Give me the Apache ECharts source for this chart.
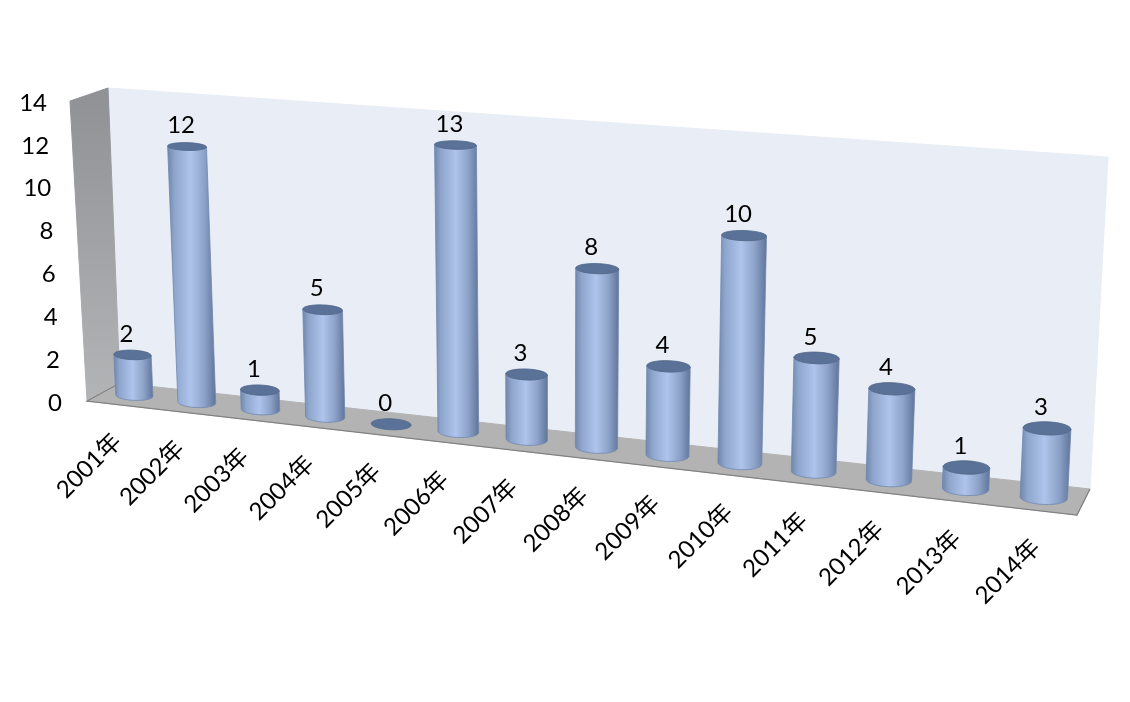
<!DOCTYPE html>
<html style="height: 100%">
<head>
  <meta charset="utf-8" />
  <title>Cylinder chart</title>
  <script src="https://cdn.jsdelivr.net/npm/echarts@6/dist/echarts.min.js"></script>
</head>
<body style="height: 100%; margin: 0; background: #fff">
  <div id="chart" style="width: 1130px; height: 702px"></div>
  <script>
    const years = ['2001年', '2002年', '2003年', '2004年', '2005年', '2006年', '2007年', '2008年', '2009年', '2010年', '2011年', '2012年', '2013年', '2014年'];
    const counts = [2, 12, 1, 5, 0, 13, 3, 8, 4, 10, 5, 4, 1, 3];
    const yMax = 14;
    const yStep = 2;

    const fontFamily = 'Lato, "Noto Sans CJK SC", sans-serif';
    const fontSize = 24;
    const font = fontSize + 'px ' + fontFamily;

    // corners of the box on screen: [front, back] x [left, right] x [bottom, top]
    const box = {
      fl0: [87, 401], fr0: [1077, 515], bl0: [120, 383], br0: [1090, 489],
      fl1: [70, 101], fr1: [1093, 176], bl1: [108, 88], br1: [1108, 157]
    };
    const warp = 1.14; // columns widen towards the right
    const barDepth = 0.5;
    const barRadius = 0.3; // in categories
    const capDepth = 0.27;
    const capTilt = 0.35; // caps sit flatter than the floor line
    const capDrop = 0.007;

    function mix(a, b, k) {
      return [a[0] + (b[0] - a[0]) * k, a[1] + (b[1] - a[1]) * k];
    }

    // u along the categories, h up the value axis, d from front to back, all 0..1
    function project(u, h, d) {
      const t = u / (u + (1 - u) * warp);
      const bottom = mix(mix(box.fl0, box.fr0, t), mix(box.bl0, box.br0, t), d);
      const top = mix(mix(box.fl1, box.fr1, t), mix(box.bl1, box.br1, t), d);
      return mix(bottom, top, h);
    }

    function ellipsePoint(u, h, ru, theta) {
      const c = project(u, h, barDepth);
      const a = project(u - ru, h, barDepth);
      const b = project(u + ru, h, barDepth);
      const ry = (project(u, h, 0)[1] - project(u, h, 1)[1]) * capDepth;
      return [
        c[0] + (b[0] - a[0]) / 2 * Math.cos(theta),
        c[1] + (b[1] - a[1]) / 2 * capTilt * Math.cos(theta) + ry * Math.sin(theta)
      ];
    }

    function arc(u, h, ru, from, to) {
      const pts = [];
      for (let i = 0; i <= 32; i++) {
        pts.push(ellipsePoint(u, h, ru, from + (to - from) * i / 32));
      }
      return pts;
    }

    const sideFill = new echarts.graphic.LinearGradient(0, 0, 1, 0, [
      { offset: 0, color: '#6f84a8' },
      { offset: 0.15, color: '#8ea5cc' },
      { offset: 0.48, color: '#aec4ec' },
      { offset: 0.76, color: '#8ca2c8' },
      { offset: 1, color: '#5f7398' }
    ]);

    function renderWalls(params, api) {
      const P = project;
      const wall = (pts, fill, stroke) => ({
        type: 'polygon',
        shape: { points: pts },
        style: { fill: fill, stroke: stroke || fill, lineWidth: 1 }
      });
      return {
        type: 'group',
        children: [
          wall([P(0, 0, 1), P(1, 0, 1), P(1, 1, 1), P(0, 1, 1)], '#e8edf6'),
          wall([P(0, 0, 0), P(0, 0, 1), P(0, 1, 1), P(0, 1, 0)],
            new echarts.graphic.LinearGradient(0, 0, 0, 1, [
              { offset: 0, color: '#8f9194' },
              { offset: 1, color: '#b3b4b6' }
            ])),
          wall([P(0, 0, 0), P(1, 0, 0), P(1, 0, 1), P(0, 0, 1)], '#b3b3b4'),
          {
            type: 'polyline',
            shape: { points: [P(0, 0, 1), P(0, 0, 0), P(1, 0, 0), P(1, 0, 1)] },
            style: { fill: null, stroke: '#808183', lineWidth: 1.2 }
          }
        ]
      };
    }

    function renderBar(params, api) {
      const cs = params.coordSys;
      const i = api.value(0);
      const pos = api.coord([i, api.value(1)]);
      const u = (pos[0] - cs.x) / cs.width;
      let h = (cs.y + cs.height - pos[1]) / cs.height;
      const ru = barRadius / years.length;
      const children = [];
      if (api.value(1) > 0) {
        h -= capDrop;
        const side = arc(u, 0, ru, 0, Math.PI).concat(arc(u, h, ru, Math.PI, 0));
        children.push({
          type: 'polygon',
          shape: { points: side },
          style: { fill: sideFill, stroke: '#7088ae', lineWidth: 0.8 }
        });
      }
      const cap = arc(u, h, ru, 0, Math.PI * 2);
      children.push({
        type: 'polygon',
        shape: { points: cap },
        style: { fill: '#5b7298', stroke: '#506789', lineWidth: 0.8 }
      });
      const top = project(u, h, barDepth);
      children.push({
        type: 'text',
        style: {
          x: top[0] - 6, y: top[1] - 21,
          text: String(api.value(1)),
          align: 'center', verticalAlign: 'middle',
          font: font, fill: '#000'
        }
      });
      const front = project(u, 0, 0);
      children.push({
        type: 'text',
        x: front[0] - 1,
        y: front[1] + 33,
        rotation: Math.PI / 4,
        style: {
          x: 0, y: 0,
          text: years[i],
          align: 'right', verticalAlign: 'middle',
          font: font, fill: '#000'
        }
      });
      return { type: 'group', children: children };
    }

    const chart = echarts.init(document.getElementById('chart'));

    // value labels step right towards the foot of the slanted front edge
    const tickRich = {};
    for (let v = 0; v <= yMax; v += yStep) {
      tickRich['v' + v] = { padding: [4, 15 * v / yMax, 0, 0], fontSize: fontSize, fontFamily: fontFamily, color: '#000' };
    }

    chart.setOption({
      backgroundColor: '#fff',
      animation: false,
      grid: { left: 87, right: 53, top: 101, bottom: 301 },
      xAxis: {
        type: 'category',
        data: years,
        axisLine: { show: false },
        axisTick: { show: false },
        axisLabel: { show: false }
      },
      yAxis: {
        type: 'value',
        min: 0,
        max: yMax,
        interval: yStep,
        splitLine: { show: false },
        axisLine: { show: false },
        axisTick: { show: false },
        axisLabel: {
          margin: 25,
          formatter: v => '{v' + v + '|' + v + '}',
          rich: tickRich
        }
      },
      series: [
        { type: 'custom', renderItem: renderWalls, data: [0], clip: false, silent: true, z: 1 },
        {
          type: 'custom',
          renderItem: renderBar,
          encode: { x: 0, y: 1 },
          data: counts.map((c, i) => [i, c]),
          clip: false,
          z: 2
        }
      ]
    });
  </script>
</body>
</html>
